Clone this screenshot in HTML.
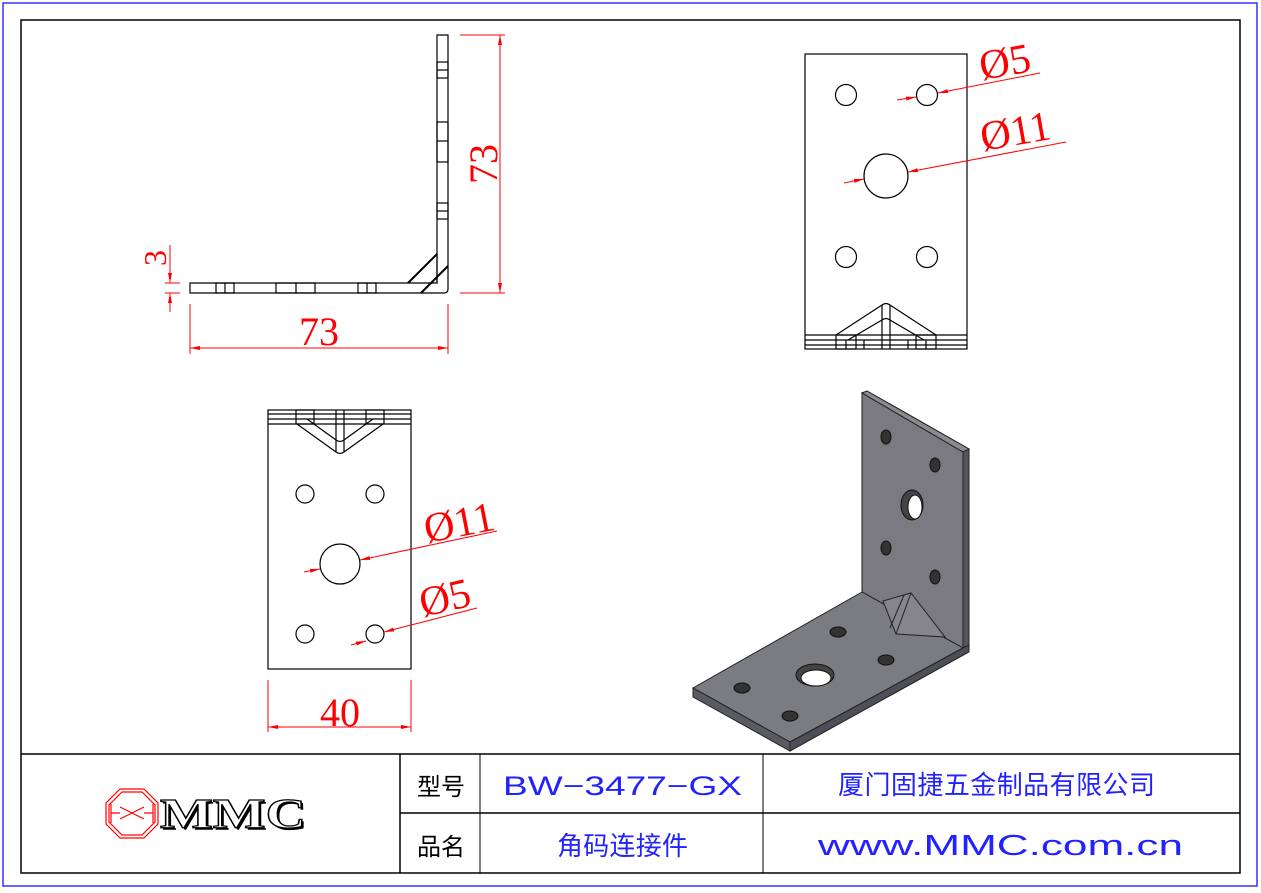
<!DOCTYPE html>
<html><head><meta charset="utf-8"><style>
html,body{margin:0;padding:0;background:#fff}
svg{display:block}
.r{fill:#f00;font-family:"Liberation Serif",serif}
</style></head><body>
<svg width="1261" height="893" viewBox="0 0 1261 893" xmlns="http://www.w3.org/2000/svg">
<defs>
<marker id="a" viewBox="0 0 10 4" refX="10" refY="2" markerWidth="10" markerHeight="4" orient="auto-start-reverse" markerUnits="userSpaceOnUse"><path d="M0,0L10,2L0,4z" fill="#f00"/></marker>
</defs>
<rect x="3" y="3" width="1254" height="883" fill="none" stroke="#33f" stroke-width="1.5"/>
<rect x="21" y="20" width="1219" height="853" fill="none" stroke="#000" stroke-width="1.5"/>

<g fill="none" stroke="#000" stroke-width="1.2">
<path d="M190,283 H437 V35 H448 V289 Q448,293 444,293 H190 Z"/>
<rect x="437" y="62" width="11" height="16"/><line x1="437" y1="70" x2="448" y2="70"/>
<rect x="437" y="122" width="11" height="40"/><line x1="437" y1="141" x2="448" y2="141"/>
<rect x="437" y="203" width="11" height="16"/><line x1="437" y1="211" x2="448" y2="211"/>
<rect x="216" y="283" width="18" height="10"/><line x1="225" y1="283" x2="225" y2="293"/>
<rect x="276" y="283" width="39" height="10"/><line x1="296" y1="283" x2="296" y2="293"/>
<rect x="358" y="283" width="18" height="10"/><line x1="367" y1="283" x2="367" y2="293"/>
<line x1="408" y1="283" x2="437" y2="254" stroke-width="2"/>
<line x1="421" y1="293" x2="448" y2="266" stroke-width="2"/>
<line x1="437" y1="254" x2="437" y2="283"/>
</g>
<g stroke="#f00" stroke-width="1" fill="none">
<line x1="460" y1="35" x2="505" y2="35"/><line x1="460" y1="293" x2="505" y2="293"/>
<line x1="500" y1="35" x2="500" y2="293" marker-start="url(#a)" marker-end="url(#a)"/>
<line x1="190" y1="304" x2="190" y2="354"/><line x1="448" y1="304" x2="448" y2="354"/>
<line x1="190" y1="348" x2="448" y2="348" marker-start="url(#a)" marker-end="url(#a)"/>
<line x1="165" y1="283" x2="180" y2="283"/><line x1="165" y1="293" x2="180" y2="293"/>
<line x1="170" y1="245" x2="170" y2="283" marker-end="url(#a)"/>
<line x1="170" y1="312" x2="170" y2="293" marker-end="url(#a)"/>
</g>
<text class="r" x="319" y="345" font-size="40" text-anchor="middle">73</text>
<text class="r" transform="translate(497,164) rotate(-90)" font-size="40" text-anchor="middle">73</text>
<text class="r" transform="translate(166,258) rotate(-90)" font-size="32" text-anchor="middle">3</text>

<g fill="none" stroke="#000" stroke-width="1.2">
<rect x="805" y="54" width="162" height="295"/>
<circle cx="846" cy="95" r="10.5"/><circle cx="927" cy="95" r="10.5"/>
<circle cx="846" cy="257" r="10.5"/><circle cx="927" cy="257" r="10.5"/>
<circle cx="886" cy="176" r="22"/>
<line x1="805" y1="335" x2="967" y2="335"/><line x1="805" y1="340" x2="967" y2="340"/><line x1="805" y1="345" x2="967" y2="345"/>
<path d="M836,335 L882,305 Q886,302 890,305 L936,335"/>
<path d="M848,340 L882,320 Q886,317 890,320 L924,340"/>
<line x1="882" y1="305" x2="882" y2="349"/><line x1="890" y1="305" x2="890" y2="349"/>
<rect x="836" y="335" width="20" height="14"/><rect x="916" y="335" width="20" height="14"/>
<line x1="846" y1="340" x2="846" y2="349"/><line x1="926" y1="340" x2="926" y2="349"/>
<line x1="864" y1="340" x2="864" y2="349"/><line x1="908" y1="340" x2="908" y2="349"/>
</g>
<g stroke="#f00" stroke-width="1">
<line x1="897" y1="100" x2="916" y2="97" marker-end="url(#a)"/>
<line x1="1040" y1="73" x2="938" y2="93" marker-end="url(#a)"/>
<line x1="844" y1="183" x2="864" y2="179" marker-end="url(#a)"/>
<line x1="1066" y1="142" x2="908" y2="172" marker-end="url(#a)"/>
</g>
<text class="r" transform="translate(982,80) rotate(-10)" font-size="42">Ø5</text>
<text class="r" transform="translate(983,151) rotate(-10)" font-size="42">Ø11</text>

<g fill="none" stroke="#000" stroke-width="1.2">
<rect x="268" y="410" width="143" height="259"/>
<circle cx="305" cy="494" r="9"/><circle cx="375" cy="494" r="9"/>
<circle cx="305" cy="634" r="9"/><circle cx="375" cy="634" r="9"/>
<circle cx="340" cy="564" r="20"/>
<line x1="268" y1="414" x2="411" y2="414"/><line x1="268" y1="419" x2="411" y2="419"/><line x1="268" y1="424" x2="411" y2="424"/>
<path d="M297,424 L336,452 Q340,455 344,452 L383,424"/>
<path d="M307,419 L336,440 Q340,443 344,440 L373,419"/>
<line x1="336" y1="410" x2="336" y2="452"/><line x1="344" y1="410" x2="344" y2="452"/>
<rect x="296" y="410" width="18" height="14"/><rect x="366" y="410" width="18" height="14"/>
</g>
<g stroke="#f00" stroke-width="1">
<line x1="268" y1="680" x2="268" y2="732"/><line x1="411" y1="680" x2="411" y2="732"/>
<line x1="268" y1="727" x2="411" y2="727" marker-start="url(#a)" marker-end="url(#a)"/>
<line x1="304" y1="572" x2="320" y2="569" marker-end="url(#a)"/>
<line x1="497" y1="531" x2="360" y2="560" marker-end="url(#a)"/>
<line x1="351" y1="645" x2="366" y2="641" marker-end="url(#a)"/>
<line x1="477" y1="608" x2="384" y2="632" marker-end="url(#a)"/>
</g>
<text class="r" x="340" y="726" font-size="40" text-anchor="middle">40</text>
<text class="r" transform="translate(427,543) rotate(-11)" font-size="42">Ø11</text>
<text class="r" transform="translate(423,617) rotate(-13)" font-size="42">Ø5</text>

<g stroke="#222" stroke-width="1">
<polygon points="862,393 867,391 969,449 969,645 963,649 963,452" fill="#55555f"/>
<polygon points="862,393 963,452 963,648 862,592" fill="#7a7a80"/>
<polygon points="862,393 867,391 969,449 963,452" fill="#8a8a90"/>
<polygon points="862,592 693,688 790,742 963,648" fill="#7b7b82"/>
<polygon points="693,688 693,697 790,751 790,742" fill="#5a5a62"/>
<polygon points="790,742 790,751 969,652 969,645 963,648" fill="#4e4e58"/>
<polygon points="883,601 911,593 945,637 896,634" fill="#85858b"/>
<line x1="904" y1="595" x2="890" y2="628"/><line x1="911" y1="593" x2="896" y2="634"/>
</g>
<g fill="#333" stroke="#111" stroke-width="1">
<ellipse cx="886" cy="437" rx="5" ry="7"/><ellipse cx="935" cy="465" rx="5" ry="7"/>
<ellipse cx="886" cy="548" rx="5" ry="7"/><ellipse cx="935" cy="577" rx="5" ry="7"/>
<ellipse cx="912" cy="505" rx="11" ry="15" fill="#444"/>
<ellipse cx="915" cy="507" rx="7" ry="12" fill="#fff"/>
<ellipse cx="838" cy="632" rx="8" ry="5"/><ellipse cx="886" cy="660" rx="8" ry="5"/>
<ellipse cx="742" cy="688" rx="8" ry="5"/><ellipse cx="790" cy="716" rx="8" ry="5"/>
<ellipse cx="815" cy="675" rx="19" ry="11" fill="#444"/>
<ellipse cx="816" cy="678" rx="15" ry="8" fill="#fff"/>
</g>

<g stroke="#000" stroke-width="1.5" fill="none">
<line x1="21" y1="754" x2="1240" y2="754"/>
<line x1="400" y1="813" x2="1240" y2="813"/>
<line x1="400" y1="754" x2="400" y2="873"/>
<line x1="480" y1="754" x2="480" y2="873" stroke-width="1"/>
<line x1="763" y1="754" x2="763" y2="873" stroke-width="1"/>
</g>
<g font-family="'Liberation Sans','Noto Sans CJK SC',sans-serif">
<text x="441" y="795" font-size="24" text-anchor="middle" fill="#000">型号</text>
<text x="441" y="855" font-size="24" text-anchor="middle" fill="#000">品名</text>
<text x="503" y="795" font-size="27" fill="#22f" textLength="239" lengthAdjust="spacingAndGlyphs">BW−3477−GX</text>
<text x="557" y="855" font-size="26" fill="#22f" textLength="131" lengthAdjust="spacing">角码连接件</text>
<text x="838" y="794" font-size="26" fill="#22f" textLength="317" lengthAdjust="spacing">厦门固捷五金制品有限公司</text>
<text x="818" y="855" font-size="29" fill="#22f" textLength="365" lengthAdjust="spacingAndGlyphs">www.MMC.com.cn</text>
</g>
<g fill="none" stroke="#f00" stroke-width="1.2">
<polygon points="120,789 144,789 158,803 158,824 144,838 120,838 106,824 106,803"/>
<polygon points="122,792 142,792 155,805 155,822 142,835 122,835 109,822 109,805"/>
<path d="M111,804 V823 M111,813 H120 M153,804 V823 M153,813 H144 M120,807 L132,813 L120,819 M144,807 L132,813 L144,819"/>
</g>
<text x="162" y="830" font-size="42" font-weight="bold" font-family="'Liberation Serif',serif" fill="#000" textLength="146" lengthAdjust="spacingAndGlyphs">MMC</text>
<text x="160" y="828" font-size="42" font-weight="bold" font-family="'Liberation Serif',serif" fill="#fff" stroke="#000" stroke-width="1.2" textLength="146" lengthAdjust="spacingAndGlyphs">MMC</text>
</svg>
</body></html>
